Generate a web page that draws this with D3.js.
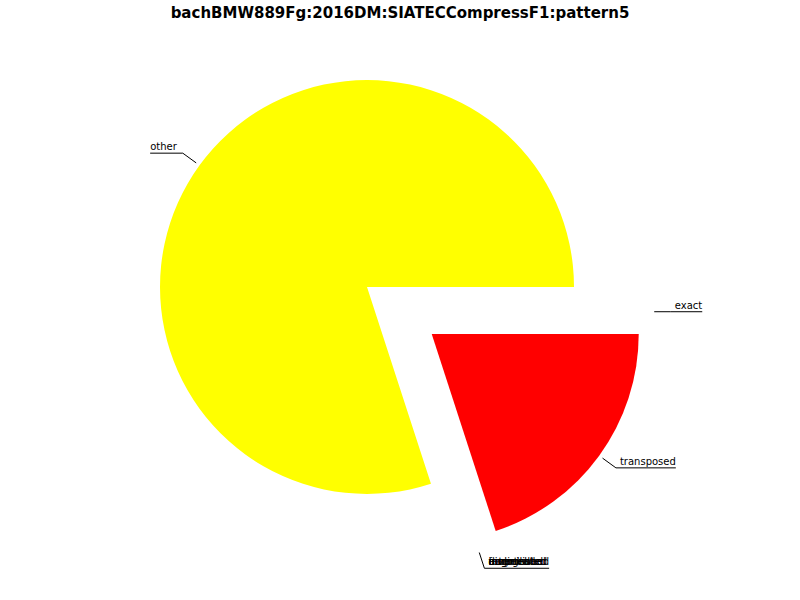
<!DOCTYPE html>
<html>
<head>
<meta charset="utf-8">
<script src="https://cdn.jsdelivr.net/npm/d3@7"></script>
<style>
  body { margin: 0; background: #fff; }
  text { font-family: "DejaVu Sans", sans-serif; }
</style>
</head>
<body>
<script>
// chart data
const categories = ["exact", "transposed", "augmented", "diminished", "inverted", "retrograde", "fragmented", "embellished", "other"];
const values = [0, 20, 0, 0, 0, 0, 0, 0, 80];
const colors = ["#0000ff", "#ff0000", "#00ff00", "#00ffff", "#ff00ff", "#ff8800", "#888888", "#8800ff", "#ffff00"];
const title = "bachBMW889Fg:2016DM:SIATECCompressF1:pattern5";

const width = 800, height = 600;
const cx = 367, cy = 287, R = 207;
const pull = 80;

const svg = d3.select("body").append("svg")
    .attr("width", width)
    .attr("height", height);

svg.append("text")
    .attr("x", width / 2)
    .attr("y", 18)
    .attr("text-anchor", "middle")
    .style("font-weight", "bold")
    .style("font-size", "15px")
    .text(title);

const data = categories.map((c, i) => ({ name: c, value: values[i], color: colors[i] }));

// d3 angles: 0 = north, clockwise; start at east
const pie = d3.pie().sort(null).value(d => d.value)
    .startAngle(Math.PI / 2).endAngle(Math.PI / 2 + 2 * Math.PI);
const arcs = pie(data);

const arc = d3.arc().innerRadius(0).outerRadius(R);
const dir = a => [Math.sin(a), -Math.cos(a)];
const mid = d => (d.startAngle + d.endAngle) / 2;

// everything but "other" is pulled out, toward the pulled group's middle
const pulledMid = mid(arcs.find(d => d.data.name === "transposed"));
arcs.forEach(d => {
  if (d.data.name === "other") { d.ox = 0; d.oy = 0; return; }
  const a = (mid(d) + pulledMid) / 2;
  const [ux, uy] = dir(a);
  d.ox = ux * pull; d.oy = uy * pull;
});

const g = svg.append("g").attr("transform", `translate(${cx},${cy})`);

g.selectAll("path.slice")
  .data(arcs.filter(d => d.value > 0))
  .join("path")
    .attr("class", "slice")
    .attr("transform", d => `translate(${d.ox},${d.oy})`)
    .attr("d", arc)
    .attr("fill", d => d.data.color);

// labels with leader lines
const measure = svg.append("text").style("font-size", "10px").attr("opacity", 0);
arcs.forEach(d => {
  measure.text(d.data.name);
  d.tw = measure.node().getComputedTextLength();
});
measure.remove();

// group labels sharing the same spot (overlapping zero slices)
const groups = d3.groups(arcs, d => mid(d).toFixed(4) + "|" + d.ox.toFixed(2));

groups.forEach(([key, items]) => {
  const d = items[0];
  const a = mid(d);
  const [ux, uy] = dir(a);
  const p1 = [d.ox + ux * R * 1.02, d.oy + uy * R * 1.02];
  const p2 = [d.ox + ux * R * 1.1, d.oy + uy * R * 1.1];
  const right = ux >= -1e-6;
  const w = d3.max(items, e => e.tw);
  const xEnd = right ? p2[0] + w + 4 : p2[0] - w - 6;

  g.append("path")
    .attr("d", d3.line()([p1, p2, [xEnd, p2[1]]]))
    .attr("fill", "none")
    .attr("stroke", "#000")
    .attr("stroke-width", 1);

  items.forEach(e => {
    g.append("text")
      .attr("x", right ? p2[0] + 4 : p2[0] - 6)
      .attr("y", p2[1] - 3)
      .attr("text-anchor", right ? "start" : "end")
      .style("font-size", "10px")
      .text(e.data.name);
  });
});
</script>
</body>
</html>
